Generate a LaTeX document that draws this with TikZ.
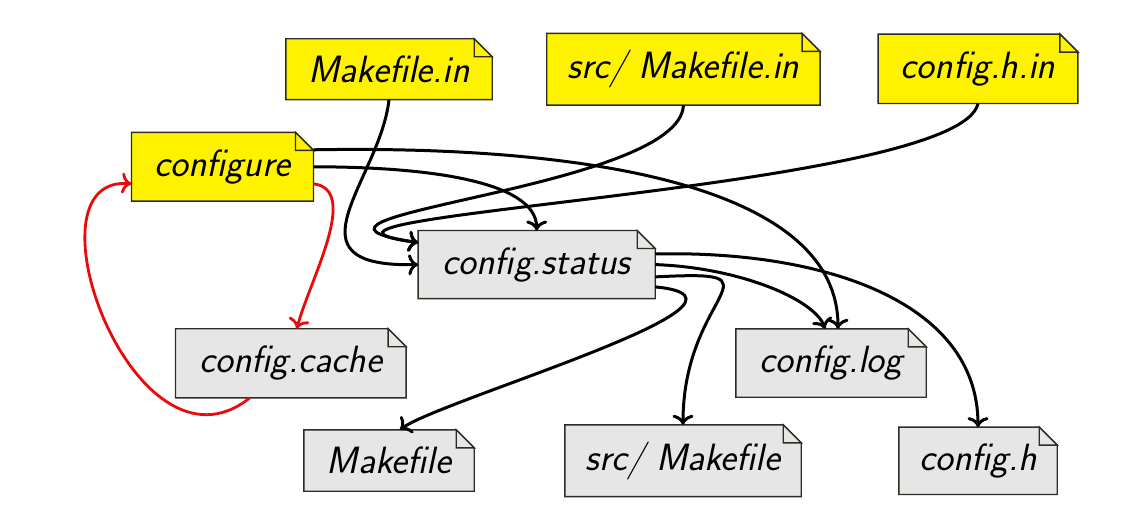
\documentclass[tikz,border=0pt]{standalone}
\usepackage{fontspec}
\usetikzlibrary{backgrounds,calc,arrows.meta}
\definecolor{docyellow}{RGB}{255,242,0}
\definecolor{docgray}{RGB}{230,230,230}
\definecolor{docborder}{RGB}{45,45,35}
\definecolor{loopred}{RGB}{235,10,10}
\tikzset{
  docnode/.style={inner sep=0pt, font=\fontsize{38}{45}\selectfont\sffamily\itshape, text=black},
  docline/.style={draw=docborder, line width=1.4pt, line join=miter},
  conn/.style={-{To[length=10pt,width=21pt]}, line width=3pt, draw=black},
  redconn/.style={-{To[length=10pt,width=21pt]}, line width=2.8pt, draw=loopred},
}
\newcommand{\docshape}[2]{%
  \filldraw[docline, fill=#2] (#1.south west) -- (#1.north west) -- ([xshift=-18pt]#1.north east)
    -- ([yshift=-18pt]#1.north east) -- (#1.south east) -- cycle;
  \filldraw[docline, fill=#2] ([xshift=-18pt]#1.north east) -- ([xshift=-18pt,yshift=-18pt]#1.north east)
    -- ([yshift=-18pt]#1.north east) -- cycle;
}
\begin{document}
\begin{tikzpicture}[x=1pt,y=-1pt]
\useasboundingbox (0,0) rectangle (1134,526);
% nodes
\node[docnode, minimum width=206pt, minimum height=60.5pt] (mfin) at (389,69.2) {Makefile.in};
\node[docnode, minimum width=273pt, minimum height=71.4pt] (srcin) at (683.4,69.3) {src/\hspace{0.28em}Makefile.in};
\node[docnode, minimum width=199.4pt, minimum height=69pt] (hin) at (978,68.8) {config.h.in};
\node[docnode, minimum width=181.6pt, minimum height=68.3pt] (conf) at (222.5,166.8) {configure};
\node[docnode, minimum width=236.7pt, minimum height=67.7pt] (status) at (536.7,264.6) {config.status};
\node[docnode, minimum width=230.3pt, minimum height=68.7pt] (cache) at (290.8,363.3) {config.cache};
\node[docnode, minimum width=190pt, minimum height=68pt] (log) at (831,363) {config.log};
\node[docnode, minimum width=170pt, minimum height=61pt] (mk) at (389,460.5) {Makefile};
\node[docnode, minimum width=236pt, minimum height=71.4pt] (srcmk) at (683,460.7) {src/\hspace{0.28em}Makefile};
\node[docnode, minimum width=158pt, minimum height=67pt] (cfh) at (978,460.8) {config.h};
\begin{pgfonlayer}{background}
  \fill[white] (0,0) rectangle (1134,526);
  \docshape{mfin}{docyellow}
  \docshape{srcin}{docyellow}
  \docshape{hin}{docyellow}
  \docshape{conf}{docyellow}
  \docshape{status}{docgray}
  \docshape{cache}{docgray}
  \docshape{log}{docgray}
  \docshape{mk}{docgray}
  \docshape{srcmk}{docgray}
  \docshape{cfh}{docgray}
\end{pgfonlayer}
% connectors
\draw[conn] (mfin.south) .. controls +(-9,81) and +(-138,3) .. (status.west);
\draw[conn] (srcin.south) .. controls +(-3,85) and +(-178,-27) .. ([yshift=22pt]status.west);
\draw[conn] (hin.south) .. controls +(-18,87) and +(-198,-27) .. ([yshift=22pt]status.west);
\draw[conn] (conf.east) .. controls +(107,0) and +(0,-51) .. (status.north);
\draw[conn] ([yshift=17pt]conf.east) .. controls +(287,-5) and +(0,-139) .. ([xshift=7pt]log.north);
\draw[redconn] ([yshift=-17pt]conf.east) .. controls +(47,6) and +(13,-49) .. ([xshift=6pt]cache.north);
\draw[redconn] ([xshift=-41pt]cache.south) .. controls +(-115,92) and +(-112,-9) .. ([yshift=-17pt]conf.west);
\draw[conn] ([yshift=10.6pt]status.east) .. controls +(165,-4) and +(0,-127) .. (cfh.north);
\draw[conn] (status.east) .. controls +(85,3) and +(-10,-29) .. ([xshift=-6pt]log.north);
\draw[conn] ([yshift=-12.3pt]status.east) .. controls +(135,-7) and +(0,-135) .. (srcmk.north);
\draw[conn] ([yshift=-22.3pt]status.east) .. controls +(135,13) and +(40,-30) .. ([xshift=11pt]mk.north);
\end{tikzpicture}
\end{document}
